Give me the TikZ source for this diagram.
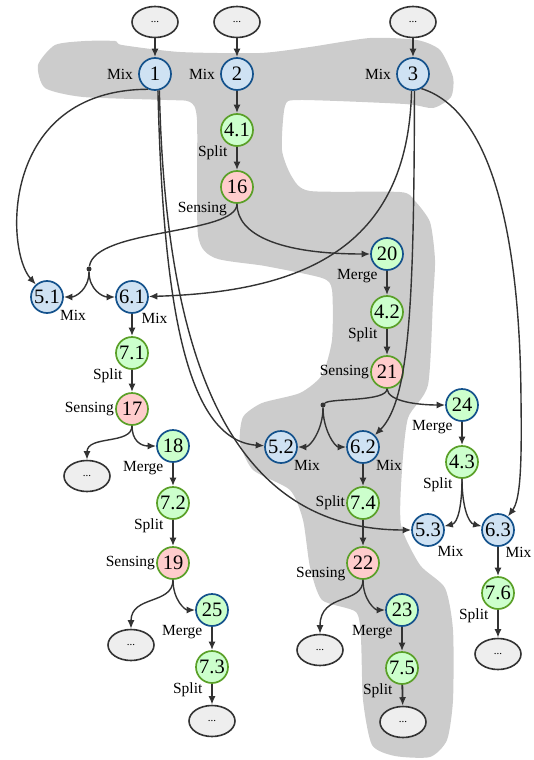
\documentclass[tikz,border=0pt]{standalone}
\usepackage{fontspec}
\setmainfont{Liberation Serif}
\usetikzlibrary{shapes.geometric,arrows.meta}
\definecolor{mixfill}{RGB}{207,226,243}
\definecolor{mixline}{RGB}{20,82,140}
\definecolor{opfill}{RGB}{204,255,204}
\definecolor{opline}{RGB}{90,160,40}
\definecolor{sensefill}{RGB}{255,204,204}
\definecolor{edgecol}{RGB}{51,51,51}
\definecolor{blobcol}{RGB}{204,204,204}
\definecolor{morefill}{RGB}{238,238,238}
\newcommand{\numfont}{\fontsize{20.5}{22}\selectfont}
\newcommand{\lblfont}{\fontsize{15.5}{17}\selectfont}

\begin{document}
\begin{tikzpicture}[x=1pt, y=-1pt,
		mix/.style={circle, draw=mixline, fill=mixfill, line width=1.7, minimum size=32, inner sep=0, font=\numfont},
		op/.style={mix, draw=opline, fill=opfill},
		sense/.style={mix, draw=opline, fill=sensefill},
		merge/.style={mix, fill=opfill},
		more/.style={ellipse, draw=edgecol, fill=morefill, line width=1.6, minimum width=46, minimum height=31, inner sep=0, font=\fontsize{11}{11}\selectfont},
		jdot/.style={circle, fill=edgecol, inner sep=0, minimum size=5},
		lbl/.style={font=\lblfont, inner sep=1},
		mixW/.style={label={[lbl, label distance=4]180:Mix}},
		mixSE/.style={label={[lbl]#1:Mix}},
		mixSE/.default=-45,
		splitL/.style={label={[lbl]240:Split}},
		mergeL/.style={label={[lbl]240:Merge}},
		senseL/.style={label={[lbl]#1:Sensing}},
		tip/.style={-{Latex[length=8.5,width=7]}},
		flow/.style={tip, draw=edgecol, line width=1.8},
		link/.style={draw=edgecol, line width=1.4}]
		\useasboundingbox (0,0) rectangle (534,760);

		% grey region
		\fill[blobcol] plot[smooth cycle, tension=0.4] coordinates {
			(38,65) (55,45) (85,41) (115,41) (122,45) (180,52) (260,53) (310,47)
			(370,38) (417,40) (440,50) (453,77) (451,97) (433,108) (405,104) (300,100)
			(285,106) (282,150) (292,177) (310,191) (400,192) (414,200) (430,222) (435,260)
			(433,300) (428,385) (408,418) (402,470) (401,525) (420,565) (445,588) (453,630)
			(453,700) (447,740) (430,757) (395,756) (372,745) (363,700) (361,640) (356,612)
			(322,600) (310,567) (303,520) (290,490) (253,470) (240,443) (243,417) (262,403)
			(300,393) (322,375) (332,340) (332,290) (322,278) (265,266) (215,258) (198,235)
			(197,120) (190,102) (167,100) (83,97) (45,88)};

		% inputs
		\node[more] at (155,22)(e1){...};
		\node[more] at (237,22)(e2){...};
		\node[more] at (413,22)(e3){...};
		\node[mix, mixW] at (155,74)(n1){1};
		\node[mix, mixW] at (237,74)(n2){2};
		\node[mix, mixW] at (413,74)(n3){3};

		% middle column
		\node[op, splitL] at (237,130)(n41){4.1};
		\node[sense, senseL=238] at (237,187)(n16){16};
		\node[merge, mergeL] at (387,254)(n20){20};
		\node[op, splitL] at (387,312)(n42){4.2};
		\node[sense, senseL=180] at (387,372)(n21){21};
		\node[merge, mergeL] at (462,405)(n24){24};
		\node[op, splitL] at (462,462)(n43){4.3};

		% mixers
		\node[jdot] at (89,269)(j1){};
		\node[mix, mixSE] at (47,297)(n51){5.1};
		\node[mix, mixSE=-60] at (132,297)(n61){6.1};
		\node[jdot] at (323,405)(j2){};
		\node[mix, mixSE] at (281,447)(n52){5.2};
		\node[mix, mixSE] at (363,447)(n62){6.2};
		\node[mix, mixSE=-60] at (428,530)(n53){5.3};
		\node[mix, mixSE=-68] at (498,530)(n63){6.3};

		% left branch
		\node[op, splitL] at (132,353)(n71){7.1};
		\node[sense, senseL=180] at (132,409)(n17){17};
		\node[more] at (87,476)(e17){...};
		\node[merge, mergeL] at (173,446)(n18){18};
		\node[op, splitL] at (173,503)(n72){7.2};
		\node[sense, senseL=180] at (173,563)(n19){19};
		\node[more] at (131,645)(e19){...};
		\node[merge, mergeL] at (212,610)(n25){25};
		\node[op, splitL] at (212,667)(n73){7.3};
		\node[more] at (212,721)(e73){...};

		% middle branch
		\node[op, label={[lbl]180:Split}] at (363,503)(n74){7.4};
		\node[sense, senseL=192] at (363,563)(n22){22};
		\node[more] at (320,650)(e22){...};
		\node[merge, mergeL] at (402,610)(n23){23};
		\node[op, splitL] at (402,668)(n75){7.5};
		\node[more] at (403,722)(e75){...};

		% right branch
		\node[op, splitL] at (498,593)(n76){7.6};
		\node[more] at (498,654)(e76){...};

		\path[flow] (e1) edge (n1) (e2) edge (n2) (e3) edge (n3)
			(n2) edge (n41) (n41) edge (n16)
			(n20) edge (n42) (n42) edge (n21) (n24) edge (n43)
			(n61) edge (n71) (n71) edge (n17) (n18) edge (n72) (n72) edge (n19)
			(n25) edge (n73) (n73) edge (e73)
			(n62) edge (n74) (n74) edge (n22) (n23) edge (n75) (n75) edge (e75)
			(n63) edge (n76) (n76) edge (e76);

		% long links
		\draw[link, tip] (n1.245) .. controls (0,90) and (5,250) .. (n51);
		\draw[link, tip] (n1.280) .. controls (163,300) and (185,440) .. (n52);
		\draw[link, tip] (n1.285) .. controls (166,380) and (240,530) .. (n53);
		\draw[link, tip] (n3.265) .. controls (408,250) and (300,292) .. (n61);
		\draw[link, tip] (n3.275) .. controls (414,300) and (410,400) .. (n62);
		\draw[link, tip] (n3.300) .. controls (490,110) and (520,230) .. (521,400)
			.. controls (522,470) and (520,500) .. (n63);

		% splits
		\draw[link] (n16.south) .. controls (237,235) and (95,228) .. (j1);
		\draw[link, tip] (j1) .. controls (89,290) and (75,297) .. (n51);
		\draw[link, tip] (j1) .. controls (89,290) and (103,297) .. (n61);
		\draw[link, tip] (n16.south) .. controls (237,235) and (280,254) .. (n20);
		\draw[link] (n21.south) .. controls (387,402) and (330,398) .. (j2);
		\draw[link, tip] (j2) .. controls (323,430) and (310,447) .. (n52);
		\draw[link, tip] (j2) .. controls (323,430) and (335,447) .. (n62);
		\draw[link, tip] (n21.south) .. controls (388,402) and (420,405) .. (n24);
		\draw[link, tip] (n43.south) .. controls (462,505) and (458,523) .. (n53);
		\draw[link, tip] (n43.south) .. controls (462,505) and (468,523) .. (n63);
		\draw[link, tip] (n17.south) .. controls (132,445) and (87,435) .. (e17);
		\draw[link, tip] (n17.south) .. controls (132,440) and (140,446) .. (n18);
		\draw[link, tip] (n19.south) .. controls (173,605) and (131,595) .. (e19);
		\draw[link, tip] (n19.south) .. controls (173,600) and (185,610) .. (n25);
		\draw[link, tip] (n22.south) .. controls (363,605) and (320,592) .. (e22);
		\draw[link, tip] (n22.south) .. controls (363,600) and (375,610) .. (n23);
	\end{tikzpicture}
\end{document}
